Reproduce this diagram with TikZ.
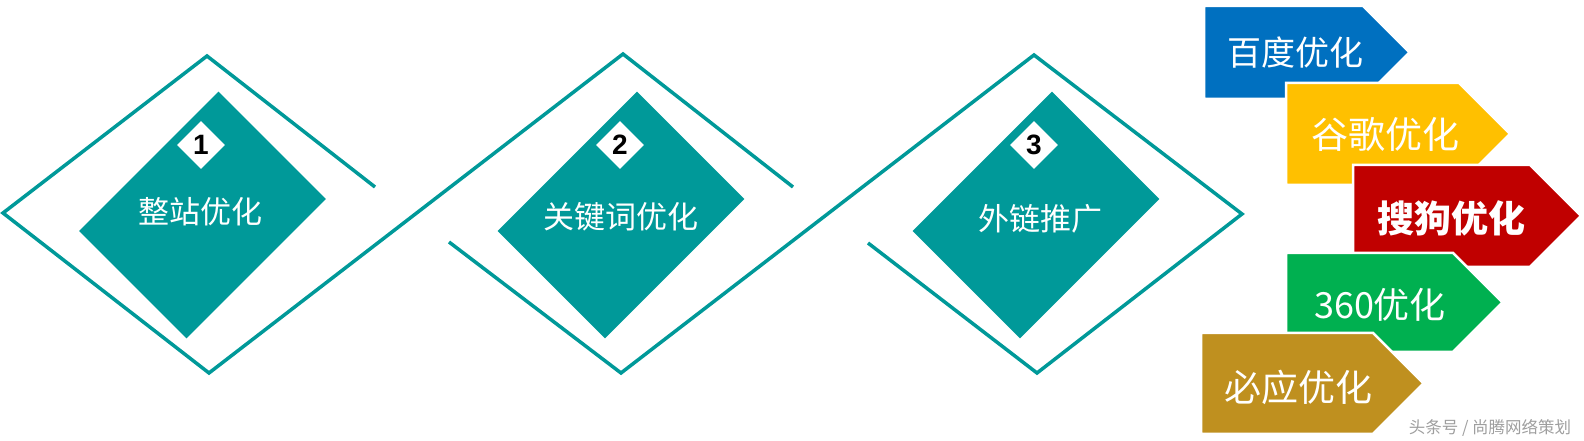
\documentclass[tikz,border=0pt]{standalone}
\usepackage{fontspec}
\setmainfont{Liberation Sans}
\newfontfamily\cjk{Noto Sans CJK SC}
\usetikzlibrary{shapes.geometric}
\definecolor{seoteal}{RGB}{0,153,153}
\definecolor{seoblue}{RGB}{0,112,192}
\definecolor{seoyellow}{RGB}{255,192,0}
\definecolor{seored}{RGB}{192,0,0}
\definecolor{seogreen}{RGB}{0,176,80}
\definecolor{seogold}{RGB}{191,144,31}
\begin{document}
\begin{tikzpicture}[x=1pt,y=1pt,
    frame/.style={seoteal, line width=3.5pt},
    block/.style={fill=seoteal, rotate=45, minimum width=197pt, minimum height=152pt, inner sep=0pt},
    badge/.style={diamond, aspect=1, fill=white, minimum size=48pt, inner sep=0pt,
      font=\fontsize{28}{28}\selectfont\bfseries},
    title/.style={text=white, font=\cjk\fontsize{31}{31}\selectfont},
    tag/.style={draw=white, line width=2.5pt, line join=miter},
    tagtext/.style={text=white, inner sep=0pt}]
  \useasboundingbox (0,0) rectangle (1584,441);

  % zigzag frames
  \draw[frame] (375,254) -- (207,385) -- (3,228) -- (209,68) -- (623,387) -- (793,254);
  \draw[frame] (449,199) -- (621,68) -- (1034,386) -- (1242,227) -- (1037,68) -- (868,198);

  % steps
  \foreach \n/\bx/\nx/\tx/\ty/\txt in {1/202.5/201/200/229.5/整站优化,
      2/621/620/620.5/224/关键词优化, 3/1036/1034/1040/222.5/外链推广}
  {
    \node[block] (block\n) at (\bx,226) {};
    \node[badge] (badge\n) at (\nx,296) {\n};
    \node[title] (title\n) at (\tx,\ty) {\txt};
  }

  % search engines
  \foreach \name/\col/\xa/\xb/\yt/\yb/\tx/\ty/\fs/\txt in {
      baidu/seoblue/1204/1363/435/342/1295/388.5/34/百度优化,
      google/seoyellow/1286/1459/358/256/1385/306/37/谷歌优化,
      sogou/seored/1353/1530/276/174/1451/223/37/\bfseries 搜狗优化,
      so/seogreen/1286/1453/188/89/1380/136/36/360优化,
      bing/seogold/1201/1373/108/7/1298/54/37/必应优化}
  {
    \filldraw[tag, fill=\col] (\xa,\yt) -- (\xb,\yt) -- ({\xb+(\yt-\yb)/2},{(\yt+\yb)/2})
      -- (\xb,\yb) -- (\xa,\yb) -- cycle;
    \node[tagtext, font=\cjk\fontsize{\fs}{\fs}\selectfont] (\name) at (\tx,\ty) {\txt};
  }

  \node[text=black!38, font=\cjk\fontsize{16.5}{16.5}\selectfont] (mark) at (1490,13)
    {头条号 / 尚腾网络策划};
\end{tikzpicture}
\end{document}
